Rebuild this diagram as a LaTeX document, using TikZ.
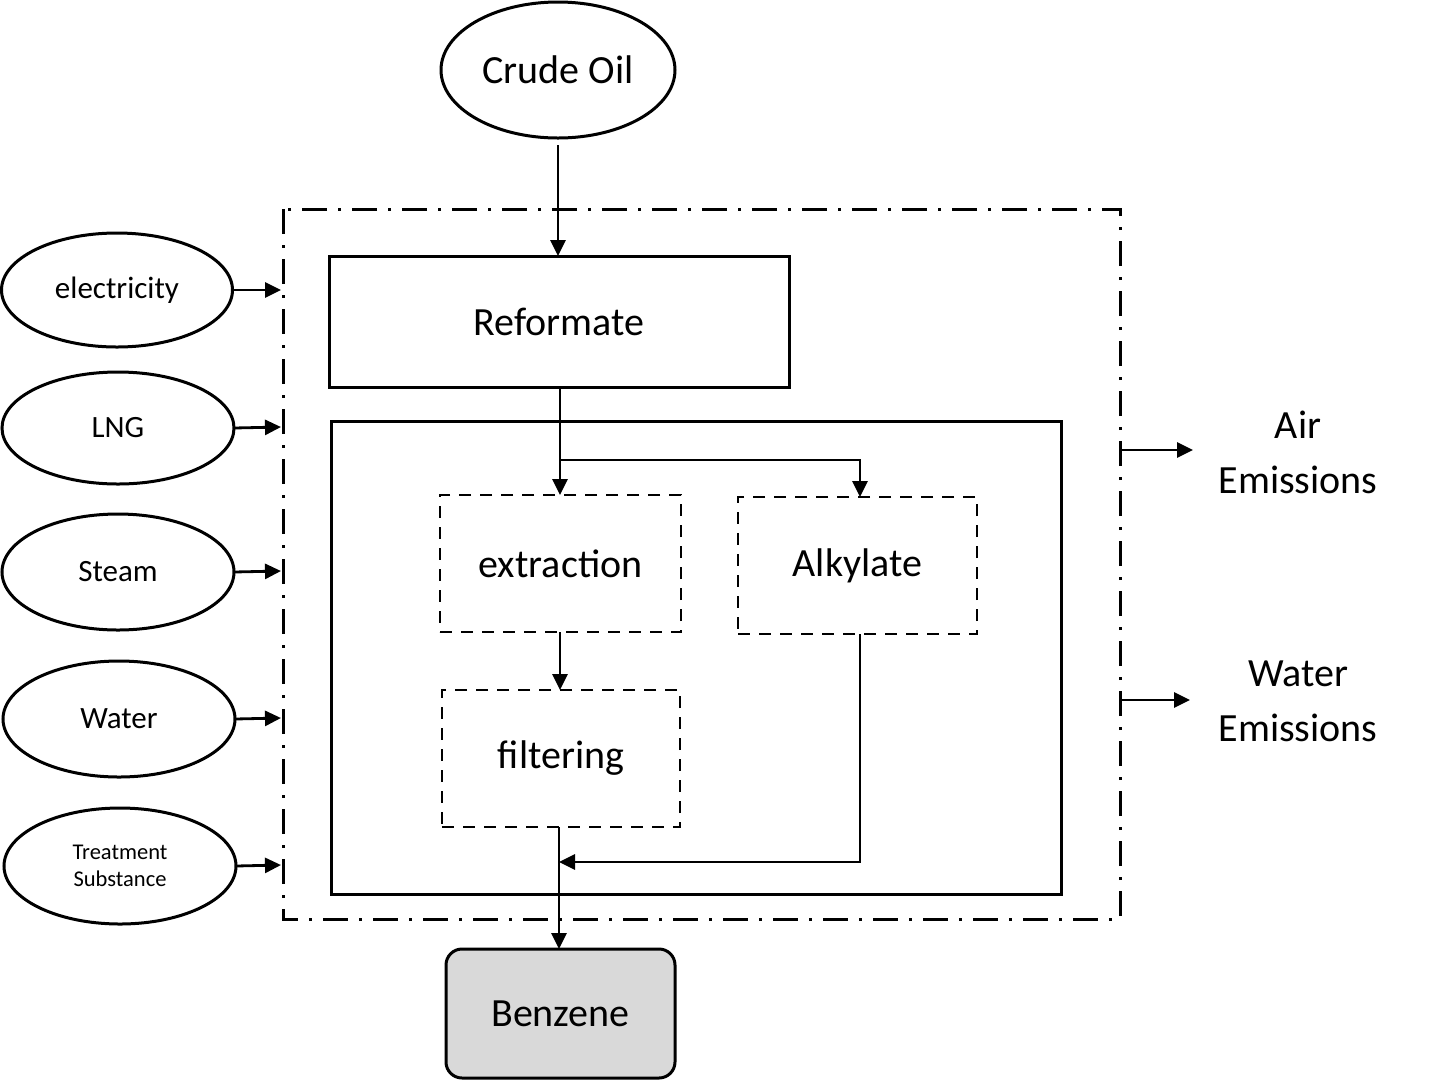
\documentclass[tikz,border=0pt]{standalone}
\usepackage{fontspec}
\setmainfont{Carlito}
\usetikzlibrary{shapes.geometric,arrows.meta}
\begin{document}
\begin{tikzpicture}[x=1pt,y=-1pt,
  every node/.style={inner sep=0pt, outer sep=0pt},
  oval/.style={draw, ellipse, line width=3pt},
  bigtxt/.style={font=\fontsize{40}{55}\selectfont, align=center},
  midtxt/.style={font=\fontsize{31}{38}\selectfont, align=center},
  smalltxt/.style={font=\fontsize{22.5}{27}\selectfont, align=center},
  solidbox/.style={draw, line width=3pt},
  dashbox/.style={draw, line width=2.8pt, dash pattern=on 12pt off 9pt},
  flow/.style={line width=2.8pt, -{Triangle[length=16pt,width=15pt]}}
]
\useasboundingbox (0,0) rectangle (1430,1080);
% outer dash-dot boundary
\draw[line width=3pt, dash pattern=on 25pt off 11pt on 3pt off 11pt] (283,209) rectangle (1120,919);
% nodes
\node[oval, minimum width=234pt, minimum height=136pt, bigtxt] (crude) at (558,70) {Crude Oil};
\node[solidbox, minimum width=460pt, minimum height=131pt, bigtxt] (reform) at (559,321.5) {Reformate};
\node[solidbox, minimum width=730pt, minimum height=473pt] (inner) at (696,657.5) {};
\node[dashbox, minimum width=241pt, minimum height=137pt, bigtxt] (extr) at (560.5,563.5) {extraction};
\node[dashbox, minimum width=239pt, minimum height=137pt, bigtxt] (alky) at (857.5,565.5) {\raisebox{-2pt}{Alkylate}};
\node[dashbox, minimum width=238pt, minimum height=137pt, bigtxt] (filt) at (561,758.5) {\raisebox{-3pt}{filtering}};
\node[draw, line width=3pt, rounded corners=16pt, fill=black!15, minimum width=229pt, minimum height=129pt, bigtxt] (benz) at (560.5,1013.5) {Benzene};
% left inputs
\node[oval, minimum width=231pt, minimum height=114pt, midtxt] (elec) at (117,290) {electricity};
\node[oval, minimum width=232pt, minimum height=112pt, midtxt] (lng) at (118,428) {LNG};
\node[oval, minimum width=232pt, minimum height=116pt, midtxt] (steam) at (118,572) {Steam};
\node[oval, minimum width=232pt, minimum height=116pt, midtxt] (water) at (119,719) {Water};
\node[oval, minimum width=232pt, minimum height=116pt, smalltxt] (treat) at (120,866) {Treatment\\Substance};
% right outputs
\node[bigtxt] (air) at (1298,452) {Air\\Emissions};
\node[bigtxt] (wem) at (1298,701) {Water\\Emissions};
% coordinates
\coordinate (inE) at (281,290);
\coordinate (inL) at (281,427);
\coordinate (inS) at (281,571);
\coordinate (inW) at (281,718);
\coordinate (inT) at (281,865);
\coordinate (outA) at (1122,450);
\coordinate (outAe) at (1193,450);
\coordinate (outW) at (1122,700);
\coordinate (outWe) at (1190,700);
\coordinate (split) at (560,460);
\coordinate (merge) at (559,862);
% connectors
\draw[flow] (558,145) -- (reform.north -| 558,0);
\draw[flow] (reform.south -| 560,0) -- (extr.north -| 560,0);
\draw[flow] (split) -| (alky.north -| 860,0);
\draw[flow] (extr.south -| 560,0) -- (filt.north -| 560,0);
\draw[flow] (filt.south -| 559,0) -- (benz.north -| 559,0);
\draw[flow] (alky.south -| 860,0) |- (merge);
\draw[flow] (elec.east) -- (inE);
\draw[flow] (lng.east) -- (inL);
\draw[flow] (steam.east) -- (inS);
\draw[flow] (water.east) -- (inW);
\draw[flow] (treat.east) -- (inT);
\draw[flow] (outA) -- (outAe);
\draw[flow] (outW) -- (outWe);
\end{tikzpicture}
\end{document}
